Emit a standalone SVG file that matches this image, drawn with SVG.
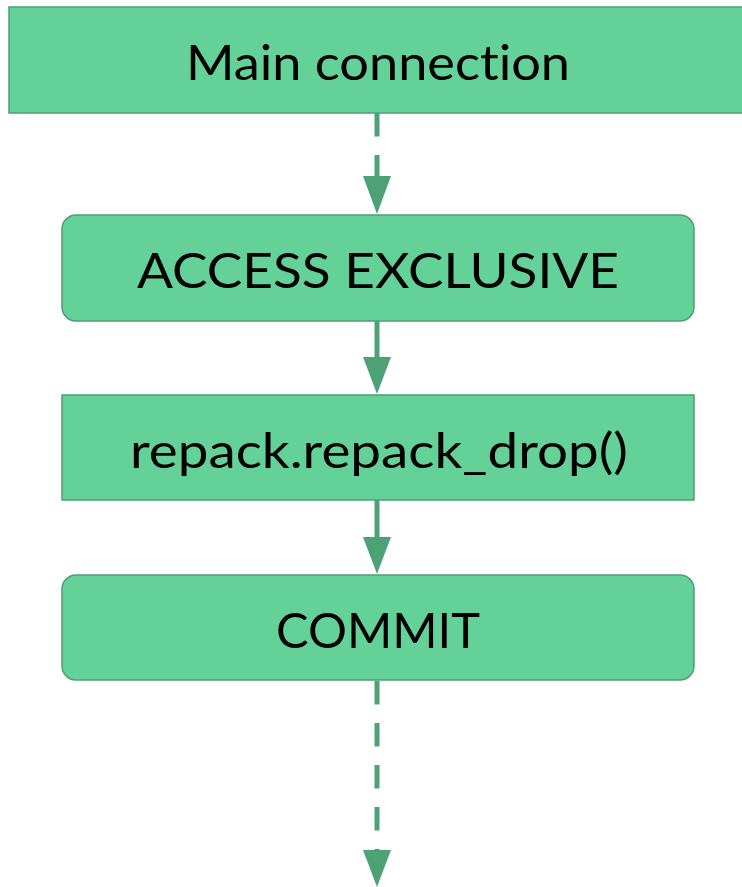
<svg xmlns="http://www.w3.org/2000/svg" width="742" height="887" viewBox="0 0 742 887">
<style>
.box{fill:#64d298;stroke:#4f9f70;stroke-width:1.5}
.lbl{font-family:Lato,"Open Sans",sans-serif;font-size:49px;fill:#000;text-anchor:middle;font-variant-ligatures:none}
.edge{stroke:#4ca274;stroke-width:5;fill:none}
.dash{stroke-dasharray:23.5 18.5}
.head{fill:#4ca274}
</style>
<rect width="742" height="887" fill="#fff"/>
<g id="connectors">
<path class="edge dash" d="M377,113 V176"/>
<path class="head" d="M363,176 L391,176 L377,214 Z"/>
<path class="edge" d="M377,321 V357"/>
<path class="head" d="M363,357 L391,357 L377,394 Z"/>
<path class="edge" d="M377,500 V537"/>
<path class="head" d="M363,537 L391,537 L377,574 Z"/>
<path class="edge dash" d="M377,681 V850"/>
<path class="head" d="M363,850 L391,850 L377,887 Z"/>
</g>
<g id="main">
<rect class="box" x="9" y="7" width="745" height="106"/>
<text class="lbl" x="378" y="80" textLength="384" lengthAdjust="spacingAndGlyphs">Main connection</text>
</g>
<g id="access">
<rect class="box" x="62" y="215" width="632" height="106" rx="14"/>
<text class="lbl" x="378" y="288" textLength="482" lengthAdjust="spacingAndGlyphs">ACCESS EXCLUSIVE</text>
</g>
<g id="repack">
<rect class="box" x="62" y="395" width="632" height="105"/>
<text class="lbl" x="379" y="468" textLength="498" lengthAdjust="spacingAndGlyphs">repack.repack_drop()</text>
</g>
<g id="commit">
<rect class="box" x="62" y="575" width="632" height="105" rx="14"/>
<text class="lbl" x="378" y="648" textLength="204" lengthAdjust="spacingAndGlyphs">COMMIT</text>
</g>
</svg>
